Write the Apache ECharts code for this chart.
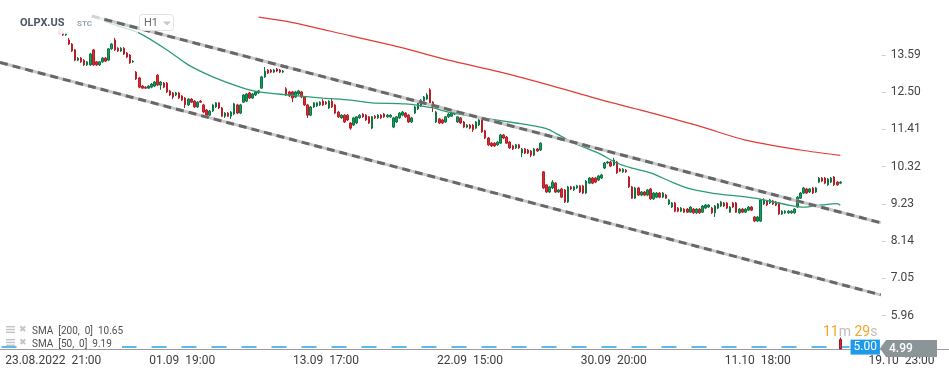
<!DOCTYPE html>
<html><head><meta charset="utf-8">
<script src="https://cdn.jsdelivr.net/npm/echarts@6/dist/echarts.min.js"></script>
<style>html,body{margin:0;padding:0;background:#fff}#c{width:949px;height:378px}</style>
</head><body><div id="c"></div>
<script>
const symbol = 'OLPX.US';
const market = 'STC';
const timeframe = 'H1';
const yTicks = [5.96, 7.05, 8.14, 9.23, 10.32, 11.41, 12.50, 13.59];
const timeTicks = [[12,'23.08.2022  21:00'],[59,'01.09  19:00'],[106,'13.09  17:00'],[153,'22.09  15:00'],[200,'30.09  20:00'],[247,'11.10  18:00'],[294,'19.10  23:00']];
const slotCount = 310;      // bar slots across the full width (time axis)
const mainSlotCount = 288;  // bar slots inside the price pane (up to the price scale)
const firstCandleSlot = 19;
// [open, close, low, high]
const candles = [
[14.35,14.23,14.20,14.41],[14.26,14.18,14.15,14.32],[14.18,14.23,14.15,14.26],[14.03,13.91,13.88,14.09],[13.91,13.71,13.68,13.94],
[13.74,13.44,13.41,13.77],[13.44,13.50,13.41,13.53],[13.50,13.39,13.36,13.53],[13.44,13.30,13.27,13.47],[13.30,13.39,13.27,13.41],
[13.30,13.62,13.27,13.65],[13.74,13.30,13.27,13.77],[13.39,13.30,13.27,13.41],[13.30,13.39,13.27,13.41],[13.39,13.50,13.36,13.53],
[13.50,13.41,13.39,13.53],[13.44,13.77,13.41,13.79],[13.77,13.91,13.74,13.94],[14.03,13.74,13.71,14.09],[13.79,13.71,13.68,13.82],
[13.71,13.79,13.68,13.82],[13.79,13.62,13.59,13.82],[13.65,13.53,13.50,13.68],[13.59,13.36,13.33,13.62],[13.39,13.41,13.36,13.44],
[13.09,12.89,12.86,13.12],[12.92,12.65,12.62,12.95],[12.68,12.62,12.60,12.71],[12.65,12.62,12.60,12.68],[12.62,12.68,12.60,12.71],
[12.65,12.74,12.62,12.77],[12.68,12.80,12.65,12.83],[13.00,12.71,12.68,13.03],[12.71,12.80,12.57,12.83],[12.77,12.65,12.62,12.80],
[12.77,12.51,12.48,12.80],[12.54,12.42,12.39,12.57],[12.48,12.36,12.30,12.51],[12.42,12.48,12.39,12.51],[12.48,12.33,12.30,12.51],
[12.39,12.27,12.24,12.42],[12.33,12.13,12.04,12.36],[12.13,12.30,12.10,12.33],[12.30,12.21,12.19,12.33],[12.24,12.07,12.04,12.27],
[12.07,12.21,12.04,12.24],[12.24,12.21,12.19,12.27],[12.13,11.92,11.89,12.16],[11.98,11.80,11.78,12.01],[11.83,11.95,11.80,11.98],
[11.95,12.13,11.92,12.16],[12.07,12.19,12.04,12.21],[12.19,12.04,12.01,12.21],[12.04,11.80,11.78,12.07],[11.80,11.89,11.75,11.92],
[11.89,11.80,11.78,11.92],[11.80,11.92,11.72,11.95],[11.86,12.16,11.83,12.19],[12.13,11.89,11.86,12.16],[11.89,12.13,11.86,12.16],
[12.21,12.42,12.19,12.45],[12.24,12.45,12.21,12.48],[12.48,12.33,12.30,12.51],[12.33,12.45,12.30,12.48],[12.42,12.51,12.39,12.54],
[12.48,12.54,12.45,12.57],[12.62,12.95,12.60,12.98],[12.95,13.12,12.92,13.24],[13.15,13.06,13.03,13.18],[13.15,13.09,13.06,13.18],
[13.09,13.15,13.06,13.18],[13.18,13.12,13.09,13.21],[13.15,13.09,13.06,13.18],[13.09,13.12,13.06,13.15],
[12.60,12.42,12.39,12.65],[12.51,12.39,12.36,12.54],[12.51,12.33,12.21,12.54],[12.36,12.51,12.33,12.54],[12.45,12.54,12.42,12.57],
[12.51,12.36,12.33,12.54],[12.36,12.13,12.10,12.39],[12.13,11.83,11.75,12.16],[11.83,12.07,11.80,12.10],[12.07,12.19,12.04,12.21],
[12.10,12.19,12.07,12.21],[12.13,12.21,12.10,12.24],[12.24,12.13,12.10,12.30],[12.21,12.16,12.13,12.24],[12.04,12.24,12.01,12.27],
[12.24,12.07,12.04,12.33],[12.13,11.89,11.86,12.16],[11.92,11.78,11.75,11.95],[11.75,11.83,11.72,11.86],[11.83,11.63,11.60,11.86],
[11.83,11.69,11.66,11.86],[11.60,11.45,11.40,11.63],[11.54,11.75,11.51,11.78],[11.60,11.78,11.57,11.80],[11.75,11.83,11.72,11.86],
[11.86,11.78,11.75,11.89],[11.83,11.69,11.66,11.86],[11.78,11.60,11.57,11.80],[11.45,11.78,11.42,11.80],[11.80,11.75,11.72,11.83],
[11.75,11.83,11.72,11.86],[11.83,11.75,11.72,11.86],[11.86,11.78,11.75,11.89],[11.78,11.83,11.75,11.86],[11.78,11.83,11.75,11.86],
[11.48,11.75,11.45,11.78],[11.63,11.78,11.60,11.80],[11.75,11.89,11.72,11.92],[11.83,11.92,11.80,11.95],[11.89,11.78,11.75,11.92],
[11.83,11.63,11.60,11.86],[11.63,11.75,11.60,11.78],[11.89,12.07,11.86,12.10],[12.01,12.19,11.98,12.21],[12.10,12.27,12.07,12.30],
[12.24,12.36,12.21,12.39],[12.30,12.42,12.27,12.48],[12.57,12.19,12.16,12.62],[12.21,12.13,11.92,12.24],[11.63,11.92,11.60,11.95],
[11.72,11.60,11.57,11.75],[11.69,11.60,11.57,11.72],[11.63,11.78,11.60,11.80],[11.78,11.86,11.75,11.89],[11.80,11.89,11.78,11.92],
[11.86,11.92,11.83,11.95],
[11.63,11.78,11.60,11.80],[11.75,11.60,11.57,11.78],[11.63,11.48,11.45,11.66],[11.48,11.54,11.45,11.57],[11.54,11.45,11.42,11.57],
[11.54,11.40,11.34,11.57],[11.45,11.63,11.42,11.66],[11.54,11.69,11.51,11.75],[11.69,11.34,11.31,11.72],[11.37,11.16,11.13,11.40],
[11.16,10.96,10.93,11.19],[11.01,10.93,10.90,11.04],[11.01,10.93,10.90,11.04],[10.96,11.04,10.93,11.07],[11.01,11.25,10.99,11.28],
[11.25,11.16,11.13,11.28],[11.19,11.01,10.99,11.22],[11.04,10.87,10.84,11.07],[10.93,10.84,10.81,10.96],[10.87,10.96,10.84,10.99],
[10.96,10.87,10.84,10.99],[10.72,10.84,10.60,10.87],[10.84,10.72,10.69,10.87],[10.81,10.72,10.69,10.84],[10.78,10.66,10.60,10.81],
[10.66,10.84,10.63,10.87],[10.84,10.78,10.75,10.87],[10.81,11.01,10.78,11.04],[10.17,9.70,9.67,10.19],[9.79,9.58,9.55,9.81],
[9.58,9.73,9.55,9.76],[9.70,9.87,9.67,9.93],[9.84,9.58,9.55,9.87],[9.58,9.64,9.55,9.67],[9.67,9.43,9.40,9.70],
[9.64,9.29,9.26,9.67],[9.29,9.73,9.26,9.76],[9.73,9.67,9.64,9.76],[9.64,9.73,9.61,9.76],[9.70,9.76,9.67,9.79],
[9.76,9.58,9.55,9.79],[9.76,9.55,9.52,9.79],[9.55,9.90,9.52,9.93],[9.84,9.99,9.81,10.02],[9.99,9.84,9.81,10.02],
[9.99,9.87,9.84,10.02],[9.93,10.05,9.90,10.08],[9.99,10.08,9.96,10.11],[10.28,10.43,10.25,10.46],[10.43,10.46,10.40,10.49],
[10.46,10.34,10.31,10.49],[10.37,10.52,10.34,10.58],[10.46,10.14,10.11,10.49],[10.25,10.19,10.17,10.28],[10.17,10.25,10.14,10.28],
[10.22,10.17,10.14,10.25],[10.02,9.73,9.70,10.05],[9.73,9.40,9.38,9.76],[9.40,9.70,9.38,9.73],[9.70,9.49,9.46,9.73],
[9.49,9.58,9.46,9.61],[9.58,9.49,9.46,9.61],[9.49,9.64,9.46,9.67],
[9.67,9.38,9.35,9.70],[9.38,9.55,9.35,9.58],[9.43,9.55,9.40,9.58],[9.55,9.43,9.40,9.58],[9.43,9.55,9.40,9.58],
[9.49,9.40,9.38,9.52],[9.23,9.35,9.20,9.38],[9.14,9.26,9.11,9.29],[9.26,9.02,8.99,9.29],[9.11,9.02,8.99,9.14],
[9.02,9.11,8.99,9.14],[9.08,8.99,8.97,9.11],[9.08,8.99,8.97,9.11],[8.99,9.14,8.97,9.17],[9.08,8.97,8.94,9.11],
[8.97,9.08,8.94,9.11],[9.08,8.97,8.94,9.11],[8.99,9.17,8.97,9.20],[9.11,9.20,9.08,9.23],[9.14,9.20,9.11,9.23],
[9.11,8.97,8.94,9.14],[8.97,9.17,8.85,9.20],[9.11,9.23,9.08,9.26],[9.17,9.29,9.14,9.32],[9.26,9.17,9.14,9.29],
[9.26,9.11,9.08,9.29],[8.99,9.14,8.97,9.17],[9.26,9.14,9.11,9.29],[9.26,8.99,8.97,9.29],[8.97,9.08,8.94,9.11],
[9.08,8.99,8.97,9.11],[8.99,9.08,8.97,9.11],[9.05,9.14,9.02,9.17],[9.14,9.05,9.02,9.17],[8.85,8.73,8.70,8.88],
[8.73,8.85,8.70,8.88],[8.73,9.35,8.70,9.38],[9.23,9.35,9.20,9.40],[9.32,9.20,9.17,9.35],[9.26,9.35,9.23,9.38],
[9.32,9.23,9.20,9.35],[9.29,9.20,9.17,9.32],[9.26,8.94,8.91,9.29],[8.94,9.02,8.91,9.05],[8.97,9.02,8.94,9.05],
[8.97,9.02,8.94,9.05],[8.97,9.02,8.94,9.05],[8.97,9.08,8.94,9.11],[9.14,9.43,9.11,9.46],[9.40,9.55,9.38,9.58],
[9.55,9.70,9.52,9.73],[9.67,9.55,9.52,9.70],[9.58,9.67,9.55,9.70],[9.70,9.55,9.52,9.73],[9.58,9.70,9.55,9.73],
[9.87,9.99,9.84,10.02],[9.99,9.90,9.87,10.02],[9.99,9.84,9.81,10.02],[9.79,9.96,9.76,9.99],[9.87,9.99,9.84,10.02],
[10.02,9.79,9.76,10.05],[9.87,9.79,9.76,9.90],[9.84,9.87,9.81,9.90]
];
// [bar index, value]
const sma200 = [[84,14.70],[94,14.56],[114,14.15],[130,13.82],[146,13.44],[163,13.09],[179,12.71],[195,12.30],[210,11.95],[228,11.51],[243,11.10],[261,10.81],[274,10.65]];
const sma50 = [[30,14.70],[37,14.47],[45,14.23],[55,13.68],[61,13.30],[69,12.95],[78,12.65],[84,12.51],[94,12.42],[105,12.33],[114,12.27],[121,12.19],[132,12.16],[141,12.04],[146,11.92],[157,11.75],[168,11.60],[176,11.48],[179,11.40],[185,11.10],[190,10.90],[195,10.72],[201,10.43],[206,10.28],[212,10.14],[219,9.87],[225,9.67],[232,9.55],[246,9.40],[257,9.20],[262,9.14],[268,9.20],[273,9.24],[274,9.19]];
const channelUpper = [[29.5,14.73],[287.2,8.68]];
const channelLower = [[-0.5,13.37],[287.2,6.57]];
const subBar = [274, 5.04, 4.99, 4.99, 5.05];
const subLevel = 5.00;
const subLevelEnd = 277;
const lastPrice = 4.99;
const sma200Label = 'SMA  [200,  0]  10.65';
const sma50Label = 'SMA  [50,  0]  9.19';
const countdownMin = '11', countdownSec = '29';

const slotW = 949 / slotCount;
const mainRight = 949 - mainSlotCount * slotW;
const slots = Array.from({length: slotCount}, (_, i) => String(i));
const mainSlots = slots.slice(0, mainSlotCount);
const candleData = candles.map((c, i) => [firstCandleSlot + i, c[0], c[1], c[2], c[3]]);
const tickMap = new Map(timeTicks);
const FF = 'Roboto, "Noto Sans", sans-serif';

const chart = echarts.init(document.getElementById('c'), null, {renderer: 'canvas'});
function channel(data) {
  return [
    {type:'line', xAxisIndex:1, yAxisIndex:0, data, showSymbol:false, silent:true, z:20,
     lineStyle:{color:'#c9c9c9', width:3}},
    {type:'line', xAxisIndex:1, yAxisIndex:0, data, showSymbol:false, silent:true, z:21,
     lineStyle:{color:'#676767', width:3, type:[8,5]}}
  ];
}
const legendIcon = (y) => [
  {type:'rect', z:32, shape:{x:6,y:y-3.5,width:9,height:1.4}, style:{fill:'#c3c3c3'}},
  {type:'rect', z:32, shape:{x:6,y:y-0.7,width:9,height:1.4}, style:{fill:'#c3c3c3'}},
  {type:'rect', z:32, shape:{x:6,y:y+2.1,width:9,height:1.4}, style:{fill:'#c3c3c3'}},
  {type:'text', z:32, x:19, y:y, style:{text:'✖', fontSize:9, fill:'#c3c3c3', verticalAlign:'middle', fontFamily:'DejaVu Sans'}}
];
chart.setOption({
  animation:false,
  textStyle:{fontFamily:FF},
  grid:[
    {left:0, right:mainRight, top:0, height:330, containLabel:false, outerBoundsMode:'none'},
    {left:0, right:0, top:330, height:19, containLabel:false, outerBoundsMode:'none'}
  ],
  xAxis:[
    {type:'category', gridIndex:0, data:mainSlots, show:false, boundaryGap:true},
    {type:'value', gridIndex:0, min:-0.5, max:mainSlotCount-0.5, show:false, axisLine:{onZero:false}},
    {type:'category', gridIndex:1, data:slots, boundaryGap:true,
     axisLine:{show:true, onZero:false, lineStyle:{color:'#9c9c9c', width:1}},
     axisTick:{show:false},
     axisLabel:{
       interval:(i) => tickMap.has(i),
       formatter:(v, i) => {
         const t = tickMap.get(i) || '';
         return i === timeTicks[0][0] ? '{s| }{t|' + t + '}' : t;
       },
       rich:{s:{width:30}, t:{color:'#3d3d3d', fontSize:12, fontFamily:FF}},
       color:'#3d3d3d', fontSize:12, fontFamily:FF, margin:6
     }}
  ],
  yAxis:[
    {type:'value', gridIndex:0, position:'right', min:5.542, max:15.2,
     splitLine:{show:false}, axisLine:{show:false, onZero:false},
     axisTick:{show:true, customValues:yTicks, length:4, lineStyle:{color:'#cfcfcf'}},
     axisLabel:{customValues:yTicks, formatter:(v) => v.toFixed(2), margin:9, color:'#444', fontSize:12, fontFamily:FF}},
    {type:'value', gridIndex:1, min:4.99, max:5.09, show:false, axisLine:{onZero:false}}
  ],
  series:[
    {type:'candlestick', xAxisIndex:0, yAxisIndex:0, data:candleData, encode:{x:0, y:[1,2,3,4]},
     barWidth:2, silent:true, z:2,
     itemStyle:{color:'#1c9a5d', color0:'#dc2a33', borderColor:'#0d7644', borderColor0:'#b41f28', borderWidth:1}},
    {type:'line', xAxisIndex:1, yAxisIndex:0, data:sma200, showSymbol:false, smooth:0.3, silent:true, z:4,
     lineStyle:{color:'#e33b36', width:1.2}},
    {type:'line', xAxisIndex:1, yAxisIndex:0, data:sma50, showSymbol:false, smooth:0.3, silent:true, z:4,
     lineStyle:{color:'#2b9c72', width:1.3}},
    ...channel(channelUpper),
    ...channel(channelLower),
    {type:'candlestick', xAxisIndex:2, yAxisIndex:1, data:[subBar], encode:{x:0, y:[1,2,3,4]},
     barWidth:3, silent:true, z:3,
     itemStyle:{color:'#1f9e60', color0:'#e0202e', borderColor:'#0e7c48', borderColor0:'#9c1822', borderWidth:1},
     markLine:{symbol:'none', silent:true, animation:false,
       lineStyle:{color:'#2aa3ea', width:1.5, type:[15,15]},
       label:{show:true, position:'end', distance:1, formatter:subLevel.toFixed(2), backgroundColor:'#1d9bea',
              color:'#fff', fontSize:12, fontFamily:FF, padding:[2,3,1,3]},
       data:[[{coord:[0, subLevel]}, {coord:[subLevelEnd, subLevel]}]]}}
  ],
  graphic:[
    {type:'rect', z:10, silent:true, shape:{x:0,y:0,width:138,height:34}, style:{fill:'rgba(255,255,255,0.75)'}},
    {type:'rect', z:25, silent:true, shape:{x:14,y:11,width:90,height:22}, style:{fill:'rgba(255,255,255,0.72)'}},
    {type:'text', z:30, x:20, y:23, style:{text:symbol, fontSize:11, fontWeight:'bold', fill:'#4b5663', verticalAlign:'middle', fontFamily:FF}},
    {type:'text', z:30, x:77, y:24, style:{text:market, fontSize:8, fontWeight:'bold', fill:'#95a4b4', verticalAlign:'middle', fontFamily:FF}},
    {type:'rect', z:30, shape:{x:139.5,y:14.5,width:34,height:16,r:3}, style:{fill:'#fff', stroke:'#e3e3e3', lineWidth:1}},
    {type:'text', z:31, x:144, y:23, style:{text:timeframe, fontSize:11, fill:'#6a6a6a', verticalAlign:'middle', fontFamily:FF}},
    {type:'polygon', z:31, shape:{points:[[163,21.5],[171,21.5],[167,25.5]]}, style:{fill:'#c8c8c8'}},
    {type:'rect', z:31, silent:true, shape:{x:17,y:337,width:105,height:11}, style:{fill:'#fff'}},
    ...legendIcon(329.5),
    {type:'text', z:32, x:32, y:331, style:{text:sma200Label, fontSize:10, fill:'#505050', verticalAlign:'middle', fontFamily:FF}},
    ...legendIcon(342.5),
    {type:'text', z:32, x:32, y:344, style:{text:sma50Label, fontSize:10, fill:'#505050', verticalAlign:'middle', fontFamily:FF}},
    {type:'text', z:30, x:823, y:332, style:{text:'{o|' + countdownMin + '}{g|m} {o|' + countdownSec + '}{g|s}', fontSize:14, verticalAlign:'middle', fontFamily:FF,
       rich:{o:{fill:'#f5a428', fontSize:14, fontFamily:FF}, g:{fill:'#bdbdbd', fontSize:14, fontFamily:FF}}}},
    {type:'polygon', z:33, shape:{points:[[880,348.5],[886,340],[937,340],[937,357],[886,357]]}, style:{fill:'#8b9497'}},
    {type:'text', z:34, x:889, y:349, style:{text:lastPrice.toFixed(2), fontSize:12, fontWeight:500, fill:'#fff', verticalAlign:'middle', fontFamily:FF}}
  ]
});
</script></body></html>
